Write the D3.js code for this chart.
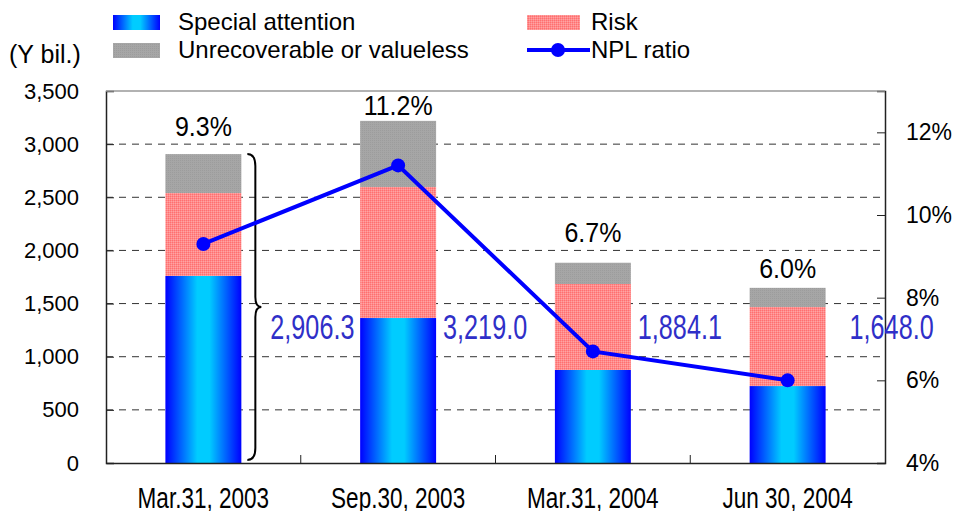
<!DOCTYPE html>
<html>
<head>
<meta charset="utf-8">
<title>NPL chart</title>
<script src="https://d3js.org/d3.v7.min.js"></script>
<style>
  body { margin: 0; background: #fff; }
  svg text { font-family: "Liberation Sans", Arial, sans-serif; fill: #000; }
  .grid line { stroke: #333; stroke-dasharray: 7, 6; stroke-width: 1; }
</style>
</head>
<body>
<svg width="956" height="511"></svg>
<script>
    // data
    var categories = ["Mar.31, 2003", "Sep.30, 2003", "Mar.31, 2004", "Jun 30, 2004"];
    var specialAttention = [1760, 1364, 875, 724];
    var risk = [780, 1233, 809, 744];
    var unrecoverable = [366.3, 622, 200.1, 180];
    var totals = [2906.3, 3219.0, 1884.1, 1648.0];
    var nplRatio = [9.3, 11.2, 6.7, 6.0];
    var leftTicks = [0, 500, 1000, 1500, 2000, 2500, 3000, 3500];
    var rightTicks = [4, 6, 8, 10, 12];

    // hand-placed label offsets (layout only)
    var totalLabelDx = [109, 87, 87, 104];
    var ratioLabelDy = [18, 6, 21, 10];

    var svg = d3.select("svg");
    var margin = {left: 106, right: 71, top: 91, bottom: 48};
    var W = 956, H = 511;

    var x = d3.scaleBand().domain(categories).range([margin.left, W - margin.right]).paddingInner(0.61).paddingOuter(0.305);
    var xb = d3.scaleBand().domain(categories).range([margin.left, W - margin.right]);
    var y = d3.scaleLinear().domain([0, 3500]).range([H - margin.bottom, margin.top]);
    var y2 = d3.scaleLinear().domain([4, 13]).range([H - margin.bottom, margin.top]);

    var defs = svg.append("defs");
    var grad = defs.append("linearGradient").attr("id", "blueGrad").attr("x1", "0").attr("x2", "1").attr("y1", "0").attr("y2", "0");
    grad.append("stop").attr("offset", "0").attr("stop-color", "#0000ff");
    grad.append("stop").attr("offset", "0.42").attr("stop-color", "#00ccff");
    grad.append("stop").attr("offset", "0.58").attr("stop-color", "#00ccff");
    grad.append("stop").attr("offset", "1").attr("stop-color", "#0000ff");

    var pat = defs.append("pattern").attr("id", "riskPat").attr("width", 2).attr("height", 2).attr("patternUnits", "userSpaceOnUse");
    pat.append("rect").attr("width", 2).attr("height", 2).attr("fill", "#ff8a8a");
    pat.append("rect").attr("width", 1).attr("height", 1).attr("fill", "#ff6f6f");
    pat.append("rect").attr("x", 1).attr("y", 1).attr("width", 1).attr("height", 1).attr("fill", "#ffa3a3");

    var grayPat = defs.append("pattern").attr("id", "grayPat").attr("width", 2).attr("height", 2).attr("patternUnits", "userSpaceOnUse");
    grayPat.append("rect").attr("width", 2).attr("height", 2).attr("fill", "#a6a6a6");
    grayPat.append("rect").attr("width", 1).attr("height", 1).attr("fill", "#9c9c9c");

    // gridlines
    svg.append("g").attr("class", "grid")
        .selectAll("line").data(leftTicks.slice(1, -1)).enter().append("line")
        .attr("x1", margin.left).attr("x2", W - margin.right)
        .attr("y1", function (d) { return y(d); }).attr("y2", function (d) { return y(d); });

    // stacked bars
    var stackData = categories.map(function (c, i) {
        return {cat: c, sa: specialAttention[i], risk: risk[i], un: unrecoverable[i]};
    });
    var series = d3.stack().keys(["sa", "risk", "un"])(stackData);
    var fills = {sa: "url(#blueGrad)", risk: "url(#riskPat)", un: "url(#grayPat)"};

    svg.append("g").selectAll("g").data(series).enter().append("g")
        .attr("fill", function (s) { return fills[s.key]; })
        .selectAll("rect").data(function (s) { return s; }).enter().append("rect")
        .attr("x", function (d) { return x(d.data.cat); })
        .attr("width", x.bandwidth())
        .attr("y", function (d) { return y(d[1]); })
        .attr("height", function (d) { return y(d[0]) - y(d[1]); });

    // axes
    var axisColor = "#222";
    var leftAxis = svg.append("g").attr("transform", "translate(" + margin.left + ",0)")
        .call(d3.axisLeft(y).tickValues(leftTicks).tickSize(-8).tickPadding(27).tickFormat(d3.format(",")));
    leftAxis.select(".domain").attr("stroke", axisColor).attr("stroke-width", 1.5);
    leftAxis.selectAll(".tick line").attr("stroke", axisColor);
    leftAxis.selectAll("text").attr("font-size", 22).attr("fill", "#000")
        .attr("font-family", "Liberation Sans, Arial, sans-serif");

    var rightAxis = svg.append("g").attr("transform", "translate(" + (W - margin.right) + ",0)")
        .call(d3.axisRight(y2).tickValues(rightTicks).tickSize(-8).tickPadding(21).tickFormat(function (d) { return d + "%"; }));
    rightAxis.select(".domain").attr("stroke", axisColor).attr("stroke-width", 1.5);
    rightAxis.selectAll(".tick line").attr("stroke", axisColor);
    rightAxis.selectAll("text").attr("font-size", 23).attr("fill", "#000")
        .attr("font-family", "Liberation Sans, Arial, sans-serif");

    var bottomAxis = svg.append("g").attr("transform", "translate(0," + (H - margin.bottom) + ")")
        .call(d3.axisBottom(xb).tickSize(0).tickPadding(0).tickFormat(""));
    bottomAxis.select(".domain").attr("stroke", axisColor).attr("stroke-width", 1.5);
    bottomAxis.selectAll(".tick").remove();
    svg.append("g").selectAll("line").data(categories.slice(1)).enter().append("line")
        .attr("x1", function (d) { return xb(d); }).attr("x2", function (d) { return xb(d); })
        .attr("y1", H - margin.bottom).attr("y2", H - margin.bottom - 8)
        .attr("stroke", axisColor);

    // top border
    svg.append("line").attr("x1", margin.left).attr("x2", W - margin.right)
        .attr("y1", margin.top).attr("y2", margin.top).attr("stroke", "#999").attr("stroke-width", 1.5);

    // category labels
    svg.append("g").selectAll("text").data(categories).enter().append("text")
        .attr("transform", function (d) { return "translate(" + (xb(d) + xb.bandwidth() / 2) + "," + 508 + ") scale(0.98,1.25)"; })
        .attr("text-anchor", "middle").attr("font-size", 23).text(function (d) { return d; });

    // brace next to first bar
    var bx = x(categories[0]) + x.bandwidth() + 6, bt = y(totals[0]), bb = y(0) - 3, bm = (bt + bb) / 2;
    svg.append("path")
        .attr("d", "M" + bx + "," + bt + " Q" + (bx + 8) + "," + bt + " " + (bx + 8) + "," + (bt + 12)
            + " L" + (bx + 8) + "," + (bm - 10) + " Q" + (bx + 8) + "," + bm + " " + (bx + 14) + "," + bm
            + " Q" + (bx + 8) + "," + bm + " " + (bx + 8) + "," + (bm + 10)
            + " L" + (bx + 8) + "," + (bb - 12) + " Q" + (bx + 8) + "," + bb + " " + bx + "," + bb)
        .attr("fill", "none").attr("stroke", "#000").attr("stroke-width", 2);

    // NPL ratio line
    var line = d3.line().x(function (d, i) { return x(categories[i]) + x.bandwidth() / 2; }).y(function (d) { return y2(d); });
    svg.append("path").datum(nplRatio).attr("d", line).attr("fill", "none").attr("stroke", "#0000ff").attr("stroke-width", 4);
    svg.append("g").selectAll("circle").data(nplRatio).enter().append("circle")
        .attr("cx", function (d, i) { return x(categories[i]) + x.bandwidth() / 2; })
        .attr("cy", function (d) { return y2(d); })
        .attr("r", 7).attr("fill", "#0000ff");

    // ratio labels above bars
    svg.append("g").selectAll("text").data(nplRatio).enter().append("text")
        .attr("transform", function (d, i) { return "translate(" + (x(categories[i]) + x.bandwidth() / 2) + "," + (y(totals[i]) - ratioLabelDy[i]) + ") scale(1,1.1)"; })
        .attr("text-anchor", "middle").attr("font-size", 25).text(function (d) { return d.toFixed(1) + "%"; });

    // totals (blue)
    svg.append("g").selectAll("text").data(totals).enter().append("text")
        .attr("transform", function (d, i) { return "translate(" + (xb(categories[i]) + xb.bandwidth() / 2 + totalLabelDx[i]) + "," + 339 + ") scale(0.7,1)"; })
        .attr("text-anchor", "middle").attr("font-size", 36).style("fill", "#2f2fc8")
        .text(function (d) { return d3.format(",.1f")(d); });

    // y-axis unit
    svg.append("text").attr("x", 9).attr("y", 63).attr("font-size", 25).text("(Y bil.)");

    // legend
    var lg = svg.append("g");
    lg.append("rect").attr("x", 113).attr("y", 15).attr("width", 47).attr("height", 15).attr("fill", "url(#blueGrad)");
    lg.append("text").attr("x", 178).attr("y", 30).attr("font-size", 24).text("Special attention");
    lg.append("rect").attr("x", 113).attr("y", 43).attr("width", 47).attr("height", 15).attr("fill", "url(#grayPat)");
    lg.append("text").attr("x", 178).attr("y", 58).attr("font-size", 24).text("Unrecoverable or valueless");
    lg.append("rect").attr("x", 527).attr("y", 15).attr("width", 53).attr("height", 15).attr("fill", "url(#riskPat)");
    lg.append("text").attr("x", 591).attr("y", 30).attr("font-size", 24).text("Risk");
    lg.append("line").attr("x1", 527).attr("x2", 590).attr("y1", 50).attr("y2", 50).attr("stroke", "#0000ff").attr("stroke-width", 4);
    lg.append("circle").attr("cx", 558).attr("cy", 50).attr("r", 7).attr("fill", "#0000ff");
    lg.append("text").attr("x", 591).attr("y", 58).attr("font-size", 24).text("NPL ratio");
</script>
</body>
</html>
